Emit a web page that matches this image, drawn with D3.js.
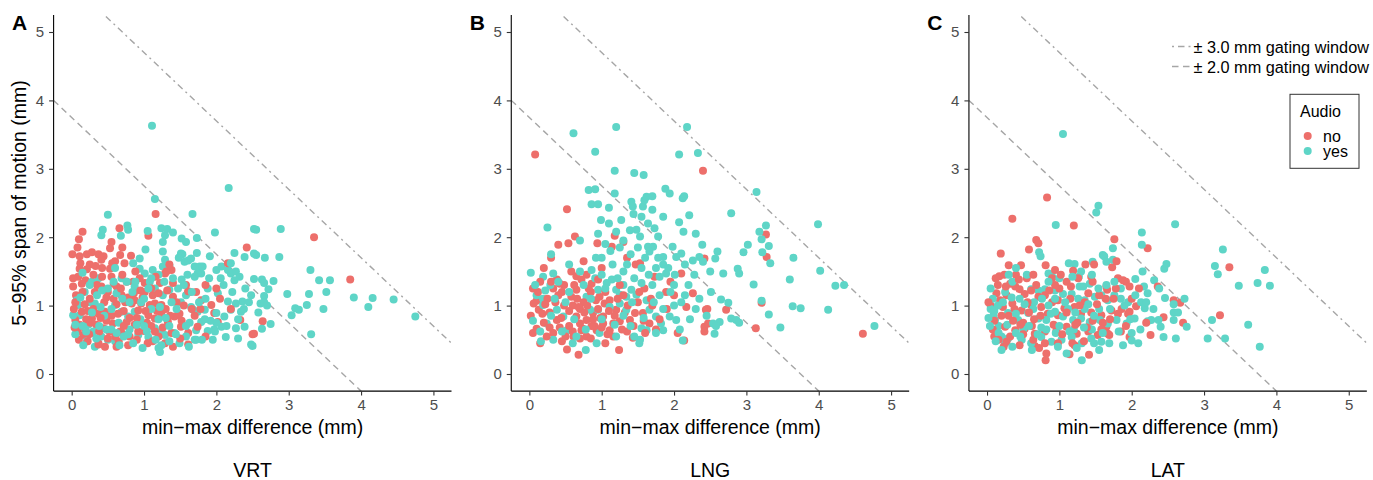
<!DOCTYPE html>
<html><head><meta charset="utf-8">
<script src="https://cdn.jsdelivr.net/npm/d3@7"></script>
<style>body{margin:0;background:#fff}svg{display:block;font-family:"Liberation Sans",Arial,sans-serif}</style>
</head><body><svg id="c" width="1373" height="480"></svg>
<script>
// ---------------- data ----------------
const panels = ["VRT", "LNG", "LAT"];
const panelLetters = ["A", "B", "C"];
const xTicks = [0, 1, 2, 3, 4, 5];
const yTicks = [0, 1, 2, 3, 4, 5];
const audioLevels = ["no", "yes"];
const gatingLines = [ // intercepts of x + y = c
  {label: "± 3.0 mm gating window", c: 5.7, type: "dotdash"},
  {label: "± 2.0 mm gating window", c: 3.75, type: "dashed"}
];

const vrtNo = [[0.15,2.08],[0.10,1.97],[0.66,2.13],[0.55,1.93],[1.06,2.02],[1.16,2.34],
[0.01,1.75],[0.11,1.72],[0.21,1.75],[0.28,1.78],[0.37,1.75],[0.44,1.72],[0.41,1.67],[0.53,1.84],[0.67,1.74],[0.82,1.73],[0.73,1.62],
[0.11,1.54],[0.21,1.53],[0.09,1.42],[0.19,1.37],[0.53,1.54],[0.55,1.42],[0.02,1.28],[0.06,1.15],[0.41,1.28],[0.50,1.20],[0.62,1.28],[0.69,1.15],[0.76,1.35],[0.85,1.35],[1.01,1.33],[1.22,1.33],[1.29,1.47],[1.38,1.52],[1.35,1.60],[1.31,1.50],
[1.01,1.20],[0.87,1.08],[0.96,1.03],[1.08,1.01],[1.15,1.03],[1.24,1.01],[1.40,1.13],[1.61,1.19],[1.72,1.20],[1.47,0.86],
[0.14,0.91],[0.05,0.79],[0.11,0.72],[0.18,0.67],[0.28,0.81],[0.37,0.88],[0.46,0.91],
[0.34,0.72],[0.44,0.67],[0.57,0.74],[0.69,0.60],[0.76,0.76],[0.87,0.72],[0.96,0.76],[1.06,0.86],[1.15,0.81],[1.24,0.89],[1.33,0.76],[1.42,0.84],[1.51,0.69],[1.61,0.60],[1.29,0.45],[1.40,0.40],[1.15,0.62],[0.16,0.57],[0.28,0.60],[0.37,0.45],[0.67,0.62],[0.83,1.03],[0.92,0.93],
[1.79,1.08],[1.93,1.01],[1.97,0.89],[2.02,0.76],[2.33,0.79],[2.50,0.58],[1.74,0.69],[1.61,1.21],[1.40,1.33],[1.49,0.88],[1.61,0.43],[0.37,0.43],[0.62,0.40],[2.16,1.62],[2.42,1.85],[3.35,2.00],[3.85,1.38],[2.64,0.77],[2.52,0.59],
[0.05,1.05],[0.15,1.20],[0.25,1.10],[0.30,0.95],[0.45,1.05],[0.55,0.85],[0.62,1.02],[0.72,0.92],[0.80,0.55],[0.90,0.50],[1.00,0.63],[1.10,0.70],[1.20,0.55],[0.50,0.52],[0.22,0.48],[0.08,0.62],[0.12,1.62],[0.30,1.45],[0.42,1.55],[0.60,1.65],[0.88,1.50],[0.95,1.22],[1.12,1.15],[0.20,0.80],[0.58,1.10],[0.78,1.12],[1.30,0.95],[1.55,1.00],[1.70,0.85],[1.85,0.55],[2.20,0.95],[0.03,0.95],[0.35,1.30],[0.48,0.78],[1.05,0.45],[1.85,1.30],[2.05,1.10],[0.65,0.48],[0.25,1.60],[0.70,1.85],
[0.02,1.40],[0.08,1.85],[0.18,1.02],[0.24,0.58],[0.32,1.20],[0.38,0.62],[0.42,1.42],[0.48,1.12],[0.52,0.62],[0.58,1.32],[0.64,0.88],[0.70,1.45],[0.74,1.05],[0.80,0.82],[0.86,1.18],[0.92,0.62],[0.98,1.12],[1.04,0.75],[1.10,1.25],[1.18,0.92],[1.26,0.68],[1.32,1.22],[1.38,0.60],[1.45,1.05],[1.52,0.78],[1.58,1.30],[1.66,0.95],[0.10,0.50],[0.14,1.32],[0.26,0.75],[0.33,1.58],[0.46,0.40],[0.60,0.55],[0.68,1.25],[0.78,0.42],[0.90,0.82],[1.02,0.92],[1.12,0.48],[1.20,1.18],[0.04,0.68],[0.22,0.92],[0.40,0.82],[0.56,1.62],[0.72,0.70],[0.94,1.40],[1.16,1.42],[1.36,0.85],[1.50,0.52],[1.78,0.95],[2.00,1.25]];

const vrtYes = [[1.11,3.63],[2.17,2.72],[1.15,2.56],[0.50,2.33],[1.67,2.34],[0.43,2.11],[0.41,2.03],[0.77,2.17],[0.78,2.11],[0.68,2.02],[1.05,2.09],[1.24,2.13],[1.32,2.12],[1.40,2.07],[1.29,2.03],[1.98,2.07],[2.52,2.12],[1.52,1.98],[1.58,1.93],[1.73,1.99],
[2.25,1.77],[2.55,1.74],[1.91,1.72],[1.73,1.77],[1.53,1.75],[1.56,1.64],[1.61,1.66],
[1.26,1.93],[1.26,1.79],[1.29,1.67],[1.26,1.57],[1.35,1.59],[1.51,1.76],[1.65,1.69],[1.77,1.57],[1.79,1.47],[0.94,1.69],[1.12,1.52],[0.94,1.54],
[0.37,1.40],[0.28,1.35],[0.18,1.20],[0.25,1.05],[0.32,1.03],[0.09,1.01],[0.11,0.86],
[0.69,1.40],[0.76,1.35],[0.87,1.28],[1.01,1.47],[1.08,1.35],[1.15,1.25],[1.26,1.15],[1.35,1.23],[1.47,1.25],[1.51,1.05],[1.58,1.15],[1.65,0.98],[1.74,0.91],[1.79,0.76],
[0.60,1.01],[0.69,0.91],[0.78,0.84],[0.87,0.91],[0.92,0.57],[1.06,0.54],[1.15,0.67],[1.24,0.62],[1.29,0.57],[1.42,0.60],[1.49,0.45],[1.58,0.55],[1.70,0.50],[1.72,0.64],[1.20,0.38],
[0.23,0.72],[0.30,0.62],[0.41,0.55],[0.50,0.50],[0.60,0.48],[0.21,0.48],[0.32,0.40],[0.07,1.08],[0.02,0.86],
[1.70,1.57],[1.74,1.47],[1.81,1.57],[1.70,1.42],[2.00,1.52],[2.07,1.57],[2.16,1.52],[2.20,1.47],[2.27,1.50],[2.32,1.42],[2.25,1.37],[2.39,1.71],[2.52,1.76],
[1.88,1.25],[2.02,1.18],[2.16,1.06],[2.27,1.03],[2.36,1.06],[2.20,0.94],[2.34,0.91],[1.84,0.94],[2.00,0.89],[2.11,0.84],[2.07,0.69],[2.27,0.67],[2.39,0.69],[2.30,0.52],[2.13,0.54],[1.88,0.63],[1.97,0.65],[1.95,0.50],[2.48,0.43],[1.68,0.94],[1.63,0.75],[1.72,0.50],[1.22,0.32],[1.24,0.42],
[2.55,2.11],[2.89,2.12],[2.67,1.70],[2.87,1.71],[3.30,1.52],[2.52,1.39],[2.63,1.38],[2.66,1.33],[2.79,1.36],[2.72,1.24],[3.42,1.37],[3.57,1.37],[2.48,1.15],[2.98,1.17],[3.28,1.17],[3.52,1.20],[3.90,1.12],[4.16,1.11],[4.45,1.09],[4.10,0.98],[2.66,1.14],[2.61,1.03],[2.66,1.05],[3.09,0.96],[3.14,0.94],[3.04,0.86],[3.25,1.01],[3.48,0.95],[4.75,0.84],[2.63,0.66],[2.75,0.73],[3.31,0.58],[2.50,0.41],
[0.45,0.85],[0.55,0.65],[0.65,0.75],[0.80,0.65],[0.95,0.80],[1.00,0.70],[1.10,0.95],[1.20,0.80],[1.35,0.70],[1.45,0.95],[0.35,1.15],[0.50,1.25],[0.62,1.18],[0.80,1.05],[1.00,1.10],[1.20,1.45],[1.40,1.40],[1.55,1.30],[0.15,0.70],[0.05,0.58],[0.85,0.45],[1.35,0.48],[0.98,0.38],[0.40,0.98],[0.72,0.55],[1.60,1.45],[1.85,1.10],[1.92,0.78],[2.10,1.30],[2.40,1.25],[0.15,1.48],[0.60,1.55],[0.85,1.62],
[0.05,0.72],[0.12,1.12],[0.20,0.62],[0.28,0.90],[0.34,0.52],[0.42,1.22],[0.48,0.65],[0.55,0.95],[0.62,0.60],[0.70,1.10],[0.78,0.58],[0.84,1.20],[0.90,0.72],[0.96,1.05],[1.04,0.62],[1.10,1.40],[1.16,0.50],[1.22,0.98],[1.30,0.82],[1.38,1.05],[1.44,0.58],[1.52,1.38],[1.58,0.70],[1.66,1.20],[1.76,1.05],[1.84,0.80],[1.90,1.40],[1.98,0.62],[2.06,1.40],[2.14,0.70],[2.22,1.20],[2.30,0.80],[2.38,0.95],[2.45,1.05],[2.58,0.90],[2.70,1.00],[0.16,0.42],[0.38,0.70],[0.66,0.42],[0.88,1.35],[1.06,1.25],[1.28,1.35],[1.48,1.70],[1.62,0.40],[1.80,0.50],[2.00,0.75],[2.20,1.62],[0.58,1.35],[0.25,1.30],[1.02,1.82]];

const lngNo = [[0.08,3.21],[2.40,2.97],[0.52,2.41],[0.63,2.01],[0.40,1.89],[0.54,1.91],[1.18,2.02],[0.94,1.91],[1.14,1.86],[1.30,1.93],[1.35,1.70],[2.42,1.69],[2.10,1.47],[1.53,1.62],[1.47,1.60],[1.59,1.25],[1.89,1.20],[1.73,1.42],[2.26,1.18],[2.17,0.98],[2.44,0.94],[2.14,0.49],[2.42,0.69],[1.32,0.90],[1.25,0.77],[1.43,0.53],[1.24,0.35],[0.68,0.28],[0.52,0.36],
[0.10,1.07],[0.06,1.03],[0.13,0.94],[0.10,0.66],[0.15,0.45],[0.33,0.60],[0.38,0.79],[0.38,1.38],[0.42,1.32],[0.33,1.25],[0.45,1.20],[0.58,1.50],[0.65,1.43],[0.72,1.38],[0.79,1.45],[0.86,1.32],[0.65,1.23],[0.58,1.13],
[0.97,1.13],[1.04,1.03],[1.11,1.08],[1.20,0.94],[1.02,0.84],[0.88,0.89],[0.79,0.79],[0.70,0.74],[0.65,0.84],[0.72,0.64],[0.61,0.55],[0.79,0.55],[0.93,0.64],[1.02,0.74],[1.11,0.64],[1.16,0.74],[1.39,0.79],[1.46,0.89],[1.57,0.89],[1.66,0.74],
[3.27,2.04],[3.28,1.71],[2.46,0.95],[2.72,0.94],[3.21,1.04],[3.13,0.67],[4.61,0.59],[2.47,0.74],[2.42,0.62],
[0.05,1.25],[0.20,1.55],[0.25,1.10],[0.28,0.90],[0.48,1.00],[0.55,0.70],[0.75,1.05],[0.85,1.20],[0.90,0.70],[0.95,0.95],[0.85,0.52],[0.60,1.00],[0.45,0.48],[1.30,1.15],[1.35,0.62],[1.50,1.05],[1.70,1.00],[1.80,0.80],[1.95,1.35],[2.05,0.60],[0.20,0.75],[0.02,0.85],[0.75,1.65],[1.00,1.55],[0.30,1.70],[1.60,0.60],[1.05,0.45],[0.70,0.95],[0.40,1.15],
[0.05,0.60],[0.12,1.20],[0.18,0.88],[0.24,0.55],[0.30,1.35],[0.36,1.05],[0.42,0.68],[0.48,1.30],[0.55,0.92],[0.60,0.62],[0.66,1.10],[0.70,0.52],[0.76,0.90],[0.82,1.25],[0.86,0.70],[0.92,1.08],[0.98,0.82],[1.05,1.20],[1.10,0.92],[1.16,0.55],[1.22,1.10],[1.28,0.65],[1.36,1.00],[1.44,0.70],[1.52,1.20],[1.58,0.78],[1.68,1.10],[1.75,0.65],[1.90,0.95],[2.00,1.15],[0.22,1.02],[0.44,0.82],[0.62,1.30],[0.74,0.66],[0.80,1.00],[0.88,0.80],[0.95,1.38],[1.08,0.58],[1.18,0.85],[0.50,0.55],[0.28,0.68],[0.68,0.98],[1.00,0.68],[1.25,1.30],[0.15,1.35]];

const lngYes = [[0.61,3.52],[1.20,3.61],[0.91,3.25],[2.18,3.61],[2.07,3.21],[2.33,3.23],[1.18,2.97],[1.45,2.94],[1.58,2.91],[0.82,2.69],[0.91,2.70],[0.86,2.48],[0.95,2.48],[1.10,2.43],[1.18,2.64],[1.41,2.52],[1.43,2.45],[1.57,2.45],[1.59,2.54],[1.62,2.59],[1.70,2.60],[1.88,2.71],[1.94,2.64],[2.12,2.57],[2.14,2.60],[1.44,2.34],[0.99,2.25],[1.27,2.25],[2.21,2.32],[2.07,2.22],[2.13,2.08],[0.25,2.14],[1.64,2.20],[1.73,2.13],[1.78,2.01],[1.20,2.08],[1.39,2.10],[1.53,2.01],[1.48,2.11],
[1.64,1.86],[1.71,1.86],[1.66,1.79],[1.85,1.71],[1.98,1.86],[2.03,1.71],[2.10,1.76],[2.39,1.89],[2.26,1.66],[2.35,1.71],[2.40,1.64],[1.85,1.60],[1.89,1.47],[1.80,1.42],[2.01,1.45],
[0.16,0.48],[0.19,1.42],[0.33,1.47],[0.29,1.30],[0.10,1.15],[0.19,1.10],
[0.86,1.52],[0.91,1.40],[0.95,1.23],[1.07,1.33],[1.14,1.38],[1.20,1.23],[1.30,1.30],[1.25,1.16],[1.34,1.13],[1.41,1.23],[1.48,1.16],[1.55,1.33],
[0.19,1.01],[0.38,0.94],[0.47,0.84],[0.52,0.64],[0.33,0.50],[0.24,0.74],[0.79,1.13],[0.84,0.94],[0.95,0.94],[1.11,0.98],[1.25,1.03],[1.34,0.94],[1.62,1.08],[1.66,0.94],[1.75,0.84],[1.82,0.74],[1.94,0.84],[2.03,0.79],[1.85,0.64],[1.62,0.64],[1.52,0.45],[0.93,0.45],[0.97,0.60],[1.53,0.50],[1.55,0.67],[0.78,0.35],[2.12,0.49],
[3.14,2.66],[2.79,2.35],[3.99,2.19],[3.27,2.17],[3.18,2.08],[3.21,1.97],[3.31,1.87],[3.22,1.78],[3.33,1.62],[3.02,1.89],[2.96,1.78],[2.60,1.79],[2.57,1.69],[3.65,1.70],[2.88,1.54],[2.90,1.47],[2.68,1.47],[3.10,1.31],[3.60,1.38],[4.02,1.51],[4.23,1.29],[4.35,1.30],[2.51,1.20],[2.65,1.09],[2.75,1.04],[3.21,1.07],[3.64,0.99],[3.75,0.96],[4.13,0.94],[3.31,0.87],[2.79,0.81],[2.86,0.79],[2.90,0.75],[2.63,0.76],[2.54,0.74],[2.58,0.70],[3.47,0.68],[4.77,0.70],[2.56,0.59],
[1.00,1.70],[1.15,1.60],[1.30,1.50],[1.40,1.75],[1.55,1.55],[1.70,1.30],[1.80,1.15],[1.95,1.20],[2.10,1.05],[2.20,1.30],[2.30,0.95],[2.00,1.00],[1.45,1.40],[1.25,1.85],[1.05,1.90],[0.70,1.95],[0.55,1.60],[0.75,1.30],[1.40,0.70],[1.20,0.55],[0.60,0.45],[0.05,0.78],[0.30,1.75],[2.30,2.05],[1.60,1.70],[2.15,1.60],[1.75,1.55],[0.02,1.48],[1.70,2.40],[0.50,1.05],
[0.08,1.30],[0.15,0.62],[0.22,1.22],[0.30,0.85],[0.40,1.35],[0.45,0.62],[0.55,1.20],[0.62,0.80],[0.70,1.50],[0.78,0.65],[0.85,1.10],[0.92,1.70],[1.00,0.80],[1.05,1.25],[1.12,1.80],[1.18,0.72],[1.22,1.40],[1.30,0.85],[1.35,1.60],[1.42,1.05],[1.50,1.85],[1.58,0.82],[1.65,1.45],[1.72,1.05],[1.78,1.70],[1.85,0.95],[1.92,1.55],[2.00,1.30],[2.08,0.65],[2.15,1.15],[2.22,0.80],[2.28,1.45],[2.35,1.10],[2.45,0.85],[2.50,1.50],[1.10,2.20],[1.30,1.95],[1.55,2.30],[0.95,2.05],[1.85,2.30],[0.65,0.55],[1.45,0.55],[1.75,0.60],[1.00,1.45],[0.35,1.10]];

const latNo = [[0.83,2.58],[0.35,2.27],[1.20,2.17],[2.22,1.84],[1.76,1.97],[0.68,1.96],[0.71,1.91],[0.58,1.82],[0.19,1.76],[0.30,1.59],[0.47,1.59],[0.17,1.43],[0.81,1.59],[0.94,1.52],[1.19,1.51],[1.36,1.60],[1.48,1.60],[1.73,1.56],[1.79,1.65],[1.44,1.42],[1.46,1.35],[1.81,1.40],[1.88,1.37],[1.92,1.35],[1.97,1.28],[1.65,1.28],[1.66,1.23],[2.36,1.28],[2.44,0.83],[2.26,0.57],[2.06,0.99],[1.97,0.91],[1.85,0.62],[1.97,0.54],[1.69,0.57],[1.65,0.69],[1.41,0.28],[1.14,0.29],[0.81,0.20],[0.82,0.30],[0.66,0.41],[0.23,0.40],
[0.13,1.18],[0.18,1.08],[0.27,1.15],[0.22,0.98],[0.32,1.32],[0.39,1.28],[0.45,1.24],[0.52,1.17],[0.61,1.22],[0.71,1.13],[0.80,1.15],
[0.35,1.03],[0.48,0.93],[0.61,1.01],[0.75,0.98],[0.84,0.88],[0.98,0.86],[1.07,0.96],[1.21,0.98],[1.30,0.88],[1.44,0.90],[1.58,0.86],[1.72,0.93],[1.81,0.88],[1.95,0.88],
[0.25,0.69],[0.39,0.64],[0.52,0.66],[0.66,0.59],[0.80,0.62],[0.96,0.64],[1.10,0.69],[1.24,0.59],[1.40,0.62],[1.53,0.57],[1.67,0.59],
[0.27,0.47],[0.45,0.42],[0.64,0.50],[0.98,0.45],[1.21,0.42],
[3.35,1.56],[2.58,1.08],[2.67,1.04],[3.22,0.86],[2.71,0.75],
[0.05,1.00],[0.10,0.78],[0.15,1.30],[0.40,1.45],[0.55,1.40],[0.65,0.80],[0.90,1.05],[1.00,1.25],[1.15,1.10],[1.25,0.75],[1.35,1.05],[1.55,1.15],[1.60,0.75],[1.75,1.10],[0.30,0.85],[0.50,0.75],[0.90,1.40],[1.10,1.35],[2.10,1.25],[2.20,0.75],[0.10,0.55],
[0.02,1.05],[0.08,0.65],[0.12,1.40],[0.20,0.85],[0.26,1.28],[0.32,0.55],[0.38,0.95],[0.44,1.38],[0.50,0.58],[0.56,1.05],[0.62,0.70],[0.68,1.30],[0.74,0.85],[0.80,0.45],[0.86,1.22],[0.92,0.72],[0.98,1.08],[1.04,0.58],[1.10,0.90],[1.16,1.28],[1.22,0.72],[1.28,1.00],[1.34,0.48],[1.40,1.18],[1.46,0.78],[1.52,1.02],[1.58,0.65],[1.64,1.10],[1.70,0.80],[1.78,1.25],[1.86,0.95],[1.92,0.70],[2.00,1.10],[0.16,0.50],[0.36,0.78],[0.58,0.90],[0.72,0.38],[0.94,1.30],[1.18,0.45],[1.38,0.68],[0.46,0.72],[1.02,1.45],[0.24,1.45],[0.64,1.45],[1.26,1.40]];

const latYes = [[1.05,3.51],[0.95,2.18],[1.54,2.46],[1.51,2.36],[2.14,2.07],[2.14,1.89],[1.74,1.84],[0.72,1.78],[0.74,1.72],[0.85,1.47],[0.90,1.42],[1.13,1.62],[1.21,1.61],[1.27,1.42],[1.46,1.64],[1.60,1.74],[1.62,1.72],[1.65,1.64],[1.74,1.67],[1.33,1.28],[1.42,1.32],[2.05,1.39],[2.17,1.28],[2.22,1.18],[2.31,1.37],[2.45,1.54],[2.48,1.61],[2.46,1.11],[2.27,0.79],[2.37,0.79],[2.40,0.69],[2.22,0.77],[2.44,0.54],[2.09,0.45],[2.13,1.05],[2.18,0.96],[1.88,0.42],[2.00,0.49],[1.69,0.45],[1.31,0.20],[1.48,0.45],[0.25,0.45],[0.20,0.55],[0.09,0.86],[0.11,0.79],[0.16,0.70],
[0.61,1.24],[0.71,1.22],[0.80,1.24],[0.94,1.22],[1.05,1.17],[1.17,1.17],[1.26,1.10],[1.35,1.08],[1.49,1.13],[1.58,1.15],[1.67,1.08],[1.76,1.15],[1.85,1.10],
[0.29,0.89],[0.43,0.79],[0.57,0.89],[0.71,0.81],[0.82,0.79],[0.94,0.91],[1.05,0.84],[1.19,0.79],[1.30,0.81],[1.42,0.76],[1.56,0.79],[1.67,0.74],[1.79,0.79],[1.93,0.74],[2.04,0.81],
[0.29,0.52],[0.48,0.50],[0.61,0.45],[0.75,0.54],[0.89,0.47],[1.03,0.50],[1.17,0.54],[1.31,0.45],[1.44,0.52],[1.58,0.47],
[2.60,2.19],[3.26,1.82],[3.15,1.58],[3.19,1.46],[3.84,1.52],[3.74,1.33],[3.91,1.29],[3.48,1.29],[2.58,1.02],[2.73,1.10],[2.58,0.90],[2.64,0.90],[2.58,0.79],[3.11,0.79],[2.76,0.69],[3.61,0.72],[2.61,0.52],[3.05,0.52],[3.29,0.52],[3.77,0.40],
[0.02,0.82],[0.05,0.95],[0.08,1.10],[0.15,1.00],[0.25,1.20],[0.35,1.35],[0.45,1.10],[0.50,0.65],[0.65,1.05],[0.75,0.68],[0.85,1.00],[0.95,0.60],[1.00,1.40],[1.12,0.95],[1.20,0.65],[1.35,0.95],[1.45,0.65],[1.55,0.95],[1.65,1.30],[1.85,1.25],[1.95,1.05],[2.00,0.60],[0.40,0.60],[0.20,0.35],[1.10,0.30],[0.55,1.45],[0.40,1.55],[1.30,1.50],
[0.04,0.70],[0.10,0.92],[0.16,0.60],[0.22,1.05],[0.28,0.72],[0.34,1.12],[0.40,0.88],[0.46,0.55],[0.52,1.02],[0.58,0.70],[0.64,0.95],[0.70,0.58],[0.76,1.10],[0.82,0.65],[0.88,0.88],[0.94,1.10],[1.00,0.70],[1.08,1.05],[1.14,0.62],[1.22,0.90],[1.28,1.28],[1.34,0.68],[1.40,1.02],[1.48,0.85],[1.54,1.25],[1.60,0.60],[1.70,0.95],[1.76,1.35],[1.82,0.62],[1.90,1.00],[1.98,0.80],[2.05,1.15],[2.12,0.65],[2.20,1.05],[2.30,0.95],[2.38,1.25],[0.12,0.48],[0.35,0.40],[0.62,0.35],[0.98,0.40],[1.24,0.38],[1.55,0.35],[0.85,1.35],[1.18,1.42],[1.45,1.45],[2.15,1.50],[0.30,1.45],[0.05,1.25]];

const seriesByPanel = [[vrtNo, vrtYes], [lngNo, lngYes], [latNo, latYes]];

// ---------------- styling / layout ----------------
const colors = {no: "#ED6F6B", yes: "#5ED5C7"};
const lineColor = "#A6A6A6";
const dashes = {dashed: "6.5,4.5", dotdash: "2,4,6.5,4"};
const W = 1373, PW = W / 3;
const plotL = 53.6, plotR = 451.5, plotT = 14.9, plotB = 391.1;
const svg = d3.select("#c");
const font = '"Liberation Sans", Arial, sans-serif';

panels.forEach((name, pi) => {
  const ox = pi * PW;
  const g = svg.append("g").attr("transform", `translate(${ox},0)`);
  const x = d3.scaleLinear().domain([-0.25, 5.25]).range([plotL, plotR]);
  const y = d3.scaleLinear().domain([-0.25, 5.25]).range([plotB, plotT]);

  const clipId = "clip" + pi;
  g.append("clipPath").attr("id", clipId).append("rect")
    .attr("x", plotL).attr("y", plotT).attr("width", plotR - plotL).attr("height", plotB - plotT);

  // gating lines
  const lg = g.append("g").attr("clip-path", `url(#${clipId})`);
  gatingLines.forEach(l => {
    lg.append("line")
      .attr("x1", x(-0.25)).attr("y1", y(l.c + 0.25))
      .attr("x2", x(l.c + 0.25)).attr("y2", y(-0.25))
      .attr("stroke", lineColor).attr("stroke-width", 1.4)
      .attr("stroke-dasharray", dashes[l.type]);
  });

  // points (interleaved draw order)
  const [no, yes] = seriesByPanel[pi];
  const pts = [];
  const n = Math.max(no.length, yes.length);
  for (let i = 0; i < n; i++) {
    if (i < yes.length) pts.push({v: yes[i], a: "yes"});
    if (i < no.length) pts.push({v: no[i], a: "no"});
  }
  g.append("g").selectAll("circle").data(pts).join("circle")
    .attr("cx", d => x(d.v[0])).attr("cy", d => y(d.v[1])).attr("r", 4)
    .attr("fill", d => colors[d.a]);

  // axes
  const xa = g.append("g").attr("transform", `translate(0,${plotB})`)
    .call(d3.axisBottom(x).tickValues(xTicks).tickFormat(d3.format("d")).tickSize(4.5).tickPadding(4).tickSizeOuter(0));
  const ya = g.append("g").attr("transform", `translate(${plotL},0)`)
    .call(d3.axisLeft(y).tickValues(yTicks).tickFormat(d3.format("d")).tickSize(4.5).tickPadding(5).tickSizeOuter(0));
  [xa, ya].forEach(a => {
    a.select(".domain").attr("stroke", "#000").attr("stroke-width", 1.1);
    a.selectAll(".tick line").attr("stroke", "#333").attr("stroke-width", 1.1);
    a.selectAll(".tick text").attr("fill", "#4D4D4D").style("font-size", "15px").style("font-family", font);
  });
  xa.select(".domain").attr("d", `M${plotL},0H${plotR}`);
  ya.select(".domain").attr("d", `M0,${plotT}V${plotB}`);

  // titles
  g.append("text").attr("x", (plotL + plotR) / 2).attr("y", 434).attr("text-anchor", "middle")
    .style("font-size", "19.5px").text("min−max difference (mm)");
  g.append("text").attr("x", (plotL + plotR) / 2).attr("y", 477).attr("text-anchor", "middle")
    .style("font-size", "19.5px").text(name);
  g.append("text").attr("x", 12).attr("y", 30).style("font-size", "21px").style("font-weight", "bold")
    .text(panelLetters[pi]);
  if (pi === 0) {
    g.append("text").attr("transform", `translate(26,${(plotT + plotB) / 2}) rotate(-90)`)
      .attr("text-anchor", "middle").style("font-size", "19.5px").text("5−95% span of motion (mm)");
  }
});

// ---------------- legends (panel C) ----------------
const lgd = svg.append("g");
gatingLines.forEach((l, i) => {
  const cy = 46.5 + i * 20;
  lgd.append("line").attr("x1", 1172).attr("x2", 1193).attr("y1", cy).attr("y2", cy)
    .attr("stroke", lineColor).attr("stroke-width", 1.4).attr("stroke-dasharray", dashes[l.type]);
  lgd.append("text").attr("x", 1193.5).attr("y", cy + 6).style("font-size", "16.3px").text(l.label);
});
lgd.append("rect").attr("x", 1290).attr("y", 94.3).attr("width", 69).attr("height", 74)
  .attr("fill", "#fff").attr("stroke", "#333").attr("stroke-width", 1);
lgd.append("text").attr("x", 1300).attr("y", 117.3).style("font-size", "16px").text("Audio");
audioLevels.forEach((lv, i) => {
  const cy = 136 + i * 15;
  lgd.append("circle").attr("cx", 1307.7).attr("cy", cy).attr("r", 4).attr("fill", colors[lv]);
  lgd.append("text").attr("x", 1323).attr("y", cy + 5.5).style("font-size", "16px").text(lv);
});
</script></body></html>
